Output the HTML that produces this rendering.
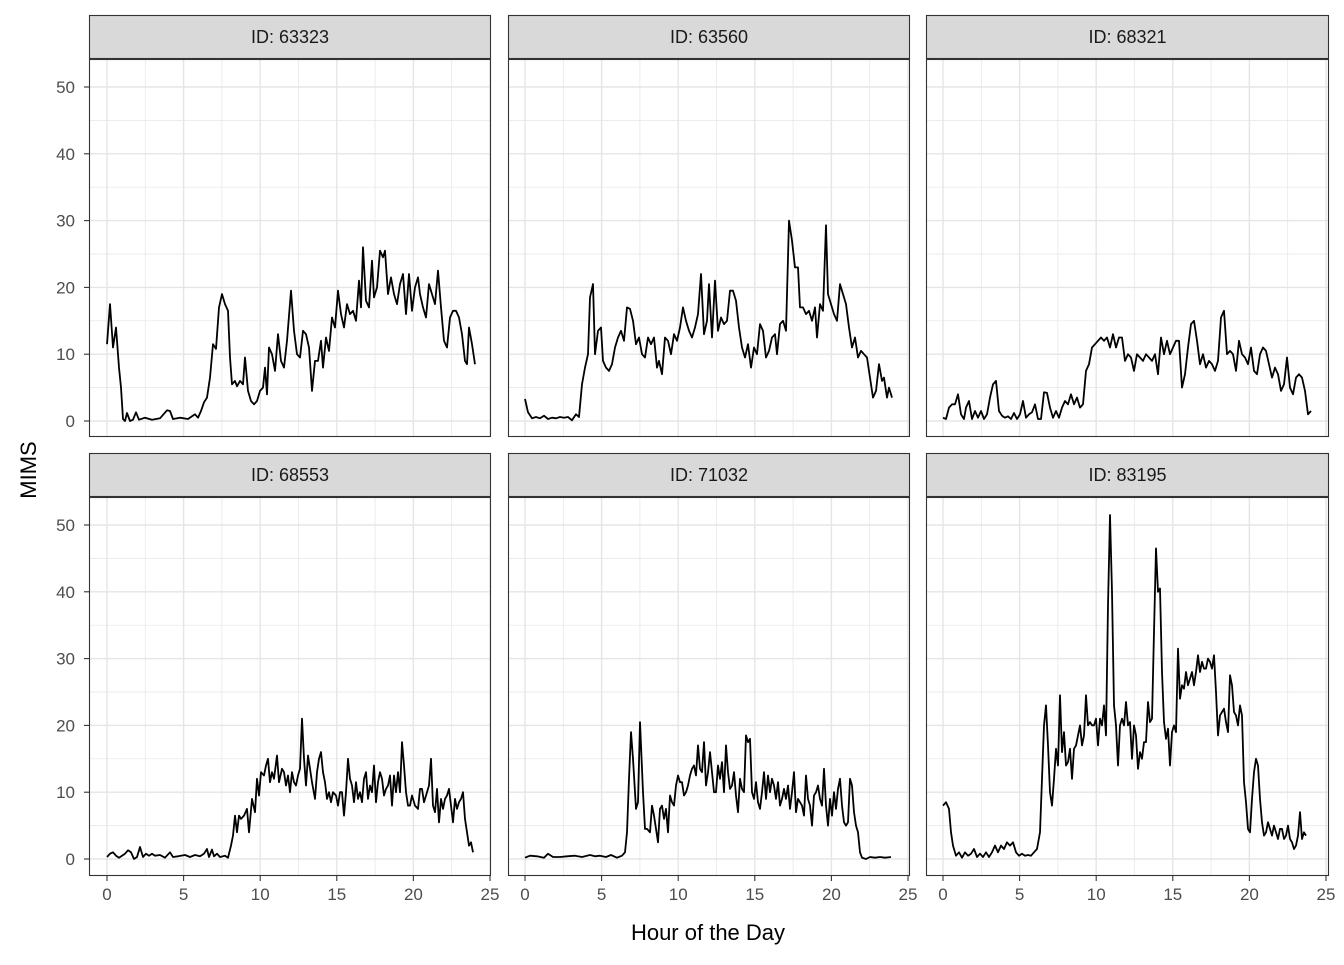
<!DOCTYPE html>
<html><head><meta charset="utf-8"><style>
html,body{margin:0;padding:0;background:#fff;}
svg text{font-family:"Liberation Sans",Arial,sans-serif;}
</style></head><body>
<svg id="s" width="1344" height="960" xmlns="http://www.w3.org/2000/svg"></svg>
<script>
const NS="http://www.w3.org/2000/svg";
const s=document.getElementById('s');
function el(t,a,txt){const e=document.createElementNS(NS,t);for(const k in a)e.setAttribute(k,a[k]);if(txt!==undefined)e.textContent=txt;s.appendChild(e);return e;}
const cols=[[89,491,107],[508,910,525],[926,1329,943]];
const rows=[[15,59,437,421],[453,497,876,859]];
const sx=15.32, sy=6.68;
const ids=["63323","63560","68321","68553","71032","83195"];
const D=[
[107,11.5,110,17.5,113,11,116,14,119,8,121,5,123,0.3,125,0,127,1.2,130,0,133,0.2,136,1.3,139,0.2,145,0.5,152,0.2,160,0.4,167,1.6,170,1.5,173,0.3,180,0.5,188,0.3,195,1,198,0.5,201,1.5,204,2.8,207,3.5,210,6.5,213,11.5,216,10.8,219,17,222,19,225,17.5,228,16.5,230,9.5,232,5.5,235,6,237,5.2,240,6,243,5.5,245,9.5,248,4.5,251,3,254,2.5,257,3,260,4.5,263,5,265,8,267,4,269,11,272,10,275,7.5,278,13,281,9,284,8,287,12,291,19.5,294,13.5,297,10,300,9.5,303,13.5,306,13,309,11,312,4.5,315,9,318,9,321,12,323,8,326,12.5,329,10.5,332,15.5,335,14,338,19.5,341,16,344,14,347,17.5,350,16,353,16.5,356,15,359,21,361,17,363,26,366,18,369,17,372,24,374,18.5,377,20,380,25.5,383,24.5,385,25.5,388,19,391,21.5,394,19,397,17.5,400,20.5,403,22,406,16,409,22,412,16.5,415,20,418,21.5,420,19,423,17,426,15.5,429,20.5,432,19,435,17.5,438,22.5,441,17,444,12,447,11,450,15.5,453,16.5,456,16.5,459,15.5,462,13,465,9,467,8.5,469,14,472,11.5,475,8.5],
[525,3.3,528,1.3,532,0.4,536,0.6,540,0.4,544,0.8,548,0.3,552,0.5,556,0.4,560,0.6,564,0.5,568,0.6,572,0.1,576,1,579,0.6,582,5.5,585,8,588,10,590,18.5,593,20.5,595,10,598,13.5,601,14,603,9,606,8,609,7.5,612,8.5,615,11,618,12.5,621,13.5,624,12,627,17,630,16.8,633,15,636,11.5,639,12.5,642,10,645,9.5,648,12.5,651,11.5,654,12.5,657,8,659,9,662,7,665,12.5,668,12,671,10,674,13,677,12,680,14,683,17,686,15,689,13.5,692,12.5,695,14,698,16,701,22,704,13,707,15,709,20.5,712,12.5,715,21,718,13.5,721,15.5,724,14.5,727,15,730,19.5,733,19.5,736,18,739,14,742,11,745,9.5,748,11.5,751,8,754,11,757,10,760,14.5,763,13.5,766,9.5,769,10.5,772,12.5,775,13,777,10,780,14.5,783,15,786,13.5,789,30,792,27,795,23,798,23,800,17,803,17,806,16,809,16.5,812,15,815,17,817,12.5,820,17.5,823,16.5,826,29.3,828,19,831,17.5,834,16,837,15,840,20.5,843,19,846,17.5,849,14,852,11,855,12.5,858,9.5,861,10.5,864,10,867,9.5,870,6.5,873,3.5,876,4.5,879,8.5,882,6,884,6.5,887,3.5,889,5,892,3.5],
[943,0.5,946,0.3,949,2,952,2.5,955,2.5,958,4,961,1,964,0.3,966,2,969,3,972,0.3,975,1.5,978,0.5,981,1.5,984,0.3,987,1,990,3.5,993,5.5,996,6,999,1.5,1002,0.8,1005,0.5,1008,0.7,1011,0.3,1014,1.2,1017,0.3,1020,1,1023,3,1026,0.5,1029,1,1032,1.3,1035,2.5,1038,0.3,1041,0.3,1044,4.3,1047,4.2,1050,2,1053,0.5,1056,1.5,1059,0.5,1062,2,1065,3,1068,2.5,1071,4,1074,2.5,1077,3.5,1080,2,1083,2.5,1086,7.5,1089,8.5,1092,11,1095,11.5,1098,12,1101,12.5,1104,12,1107,12.5,1110,11,1113,13,1116,11,1119,12.5,1122,12.5,1125,9,1128,10,1131,9.5,1134,7.5,1137,10,1140,9.5,1143,9,1146,10,1149,9.5,1152,9,1155,10,1158,7,1161,12.5,1164,10,1167,12,1170,10,1173,11,1176,12,1179,12,1182,5,1185,7,1188,11,1191,14.5,1194,15,1197,12,1200,8.5,1203,10,1206,8,1209,9,1212,8.5,1215,7.5,1218,9,1221,15.5,1224,16.5,1227,10,1230,10.5,1233,10,1236,7.5,1239,12,1242,10,1245,9.5,1248,8.5,1251,11,1254,7.5,1257,7,1260,10,1263,11,1266,10.5,1269,8.5,1272,6.5,1275,8,1278,7,1281,4.5,1284,5.5,1287,9.5,1290,5,1293,4,1296,6.5,1299,7,1302,6.5,1305,4.5,1308,1,1311,1.5],
[107,0.3,110,0.8,113,1,116,0.5,119,0.2,122,0.5,125,0.8,128,1.3,131,1,134,0,137,0.3,140,1.8,143,0.3,146,0.8,149,0.5,152,0.8,155,0.5,160,0.6,165,0.2,170,1,173,0.3,178,0.4,185,0.6,190,0.3,195,0.6,200,0.4,204,0.8,207,1.5,209,0.3,212,1.4,214,0.4,217,0.8,220,0.3,225,0.5,228,0.2,231,2,233,3.5,235,6.5,237,4,239,6.5,241,6,244,6.5,247,7.5,249,4,252,9,255,7,257,12,259,9.5,261,13,264,12.5,266,14,268,15,270,11.5,272,13,274,12,277,15.5,279,11.5,282,13.5,284,13,286,11,288,12.5,290,10,292,13,294,11.5,296,11,298,12.5,300,13.5,302,21,304,15,306,11,308,15.5,310,13.5,312,11.5,315,9,317,13,319,15,321,16,323,13,325,11.5,327,9,329,10,331,8.5,333,10,336,9.5,338,8,340,10,342,10,344,6.5,346,10,348,15,350,12,352,11,354,8.5,356,11.5,358,9,360,10,362,8.5,364,12,366,13,368,9,370,11,372,10,374,14,376,8.5,378,11.5,380,13,382,12,384,9.5,386,10.5,388,11,390,12.5,392,8,394,12.5,396,10,398,13,400,10,402,17.5,404,14,406,10,408,8,410,8,412,9.5,415,8,418,7.5,420,10.5,422,10.5,424,8.5,427,10,429,11,431,15,433,8,435,7,437,10.5,439,5.5,441,9,443,7.5,445,9,447,9.5,449,10.5,451,8,453,5.5,455,9,457,7.5,459,8.5,461,9,463,10,465,6,467,4,469,2,471,2.5,473,1],
[525,0.2,530,0.5,537,0.4,544,0.2,548,0.8,553,0.3,560,0.3,567,0.4,575,0.5,582,0.3,590,0.6,595,0.4,600,0.5,606,0.3,611,0.6,617,0.2,622,0.5,625,1,627,4,629,12,631,19,633,15,636,7.5,638,8.5,640,20.5,643,10,645,4.5,647,4.5,650,4,652,8,654,6.5,656,4.5,658,2.5,660,7.5,662,8,664,6,666,7.5,668,4,670,9.5,672,8.5,674,8,676,11,678,12.5,680,11.5,682,11.5,684,9.5,686,10,688,11,690,12.5,692,13.5,694,14,696,12.5,698,17,700,13.5,702,13,704,17.5,706,11,708,13,710,16,712,13,714,10,716,10,718,14,720,12,722,14.5,724,10,726,17,728,13,730,10.5,732,11,734,13,736,9.5,738,7,740,12,742,10.5,744,10,746,18.5,748,17.5,750,18,752,10,754,9,756,11.5,758,8.5,760,7.5,762,10,764,13,766,9,768,12.5,770,10,772,12,774,11,776,9,778,11.5,780,8,782,9,784,10.5,786,9,788,11,790,7.5,792,10,794,13,796,7,798,9,800,8.5,802,8,804,6.5,806,12.5,808,9,810,8,812,5,814,9.5,816,10,818,11,820,9,822,8,824,13.5,826,8,828,5,830,9,832,6.5,834,10,836,7.5,838,10.5,840,12,842,8,844,5.5,846,5,848,5.5,850,12,852,11,854,7,856,5,858,4,860,1,862,0.2,866,0,870,0.3,875,0.2,880,0.3,885,0.2,891,0.3],
[943,8,946,8.5,949,7.5,951,4,953,2,956,0.5,959,1,962,0.2,965,1,968,0.5,971,0.8,974,1.5,977,0.3,980,0.8,983,0.3,986,1,989,0.3,992,1,995,2,998,1,1001,2,1004,1.5,1007,2.5,1010,2,1013,2.5,1016,1,1019,0.5,1022,0.8,1025,0.5,1028,0.6,1031,0.5,1034,1,1037,1.5,1040,4,1042,12,1044,20,1046,23,1048,17,1050,10,1052,8,1054,12,1056,16.5,1058,14,1060,24.5,1062,16,1064,19,1066,14,1068,14.5,1070,16.5,1072,12,1074,16.5,1076,17,1078,18.5,1080,20,1082,17,1084,18.5,1086,24.5,1088,20,1090,20.5,1092,20,1094,20,1096,21,1098,17,1100,21,1102,20,1104,23,1106,18.5,1108,38,1110,51.5,1112,40,1114,23,1116,20,1118,14,1120,20,1122,21,1124,20,1126,23.5,1128,20,1130,20.5,1132,15,1134,20,1136,18.5,1138,13.5,1140,16,1142,15,1144,17.5,1146,17.5,1148,23.5,1150,20.5,1152,21,1154,34,1156,46.5,1158,40,1160,40.5,1162,28,1164,20.5,1166,18,1168,19.5,1170,14,1172,19,1174,20,1176,19,1178,31.5,1180,24,1182,26,1184,25.5,1186,28,1188,26,1190,27,1192,28,1194,26,1196,28,1198,30.5,1200,28,1202,29.5,1204,28.5,1206,28.5,1208,30,1210,29.5,1212,28.5,1214,30.5,1216,25,1218,18.5,1220,21.5,1222,22,1224,22.5,1226,20.5,1228,19,1230,27.5,1232,26,1234,22,1236,21.5,1238,20,1240,23,1242,21.5,1244,11.5,1246,8.5,1248,4.5,1250,4,1252,9,1254,13,1256,15,1258,14,1260,9,1262,5.5,1264,3.5,1266,4,1268,5.5,1270,4.5,1272,3.5,1274,5,1276,4,1278,3,1280,4.5,1282,4.5,1284,3,1286,3.5,1288,5,1290,3,1292,2.5,1294,1.5,1296,2,1298,3.5,1300,7,1302,3,1304,4,1306,3.5]
];
for(let r=0;r<2;r++){
 const [st,pt,pb,y0]=rows[r];
 for(let c=0;c<3;c++){
  const [x1,x2,x0]=cols[c];
  el('rect',{x:x1,y:pt,width:x2-x1,height:pb-pt,fill:'#fff'});
  for(let v=5;v<=55;v+=10){const y=y0-v*sy;if(y>pt)el('line',{x1:x1,x2:x2,y1:y,y2:y,stroke:'#e5e5e5','stroke-width':0.7});}
  for(let h=2.5;h<=25;h+=5){const x=x0+h*sx;if(x<x2)el('line',{x1:x,x2:x,y1:pt,y2:pb,stroke:'#e5e5e5','stroke-width':0.7});}
  for(let v=0;v<=50;v+=10){const y=y0-v*sy;el('line',{x1:x1,x2:x2,y1:y,y2:y,stroke:'#e5e5e5','stroke-width':1.4});}
  for(let h=0;h<=25;h+=5){const x=x0+h*sx;el('line',{x1:x,x2:x,y1:pt,y2:pb,stroke:'#e5e5e5','stroke-width':1.4});}
  const d=D[r*3+c];let p='';
  for(let i=0;i<d.length;i+=2)p+=(i?'L':'M')+d[i]+' '+(y0-d[i+1]*sy).toFixed(1);
  el('path',{d:p,fill:'none',stroke:'#000','stroke-width':1.8,'stroke-linejoin':'round'});
  el('rect',{x:x1+0.5,y:pt+0.5,width:x2-x1-1,height:pb-pt-1,fill:'none',stroke:'#333','stroke-width':1.1});
  el('rect',{x:x1+0.5,y:st+0.5,width:x2-x1-1,height:pt-st-1,fill:'#d9d9d9',stroke:'#333','stroke-width':1.1});
  el('text',{x:(x1+x2)/2,y:(st+pt)/2+6,'text-anchor':'middle','font-size':18,fill:'#1a1a1a'},'ID: '+ids[r*3+c]);
  if(c==0){for(let v=0;v<=50;v+=10){const y=y0-v*sy;el('line',{x1:84,x2:89,y1:y,y2:y,stroke:'#333','stroke-width':1.1});el('text',{x:75,y:y+6,'text-anchor':'end','font-size':17,fill:'#4d4d4d'},v);}}
  if(r==1){for(let h=0;h<=25;h+=5){const x=x0+h*sx;el('line',{x1:x,x2:x,y1:pb,y2:pb+5,stroke:'#333','stroke-width':1.1});el('text',{x:x,y:pb+24,'text-anchor':'middle','font-size':17,fill:'#4d4d4d'},h);}}
 }
}
el('text',{x:708,y:940,'text-anchor':'middle','font-size':22,fill:'#000'},'Hour of the Day');
el('text',{x:0,y:0,'text-anchor':'middle','font-size':22,fill:'#000',transform:'translate(36,470) rotate(-90)'},'MIMS');
</script>
</body></html>
